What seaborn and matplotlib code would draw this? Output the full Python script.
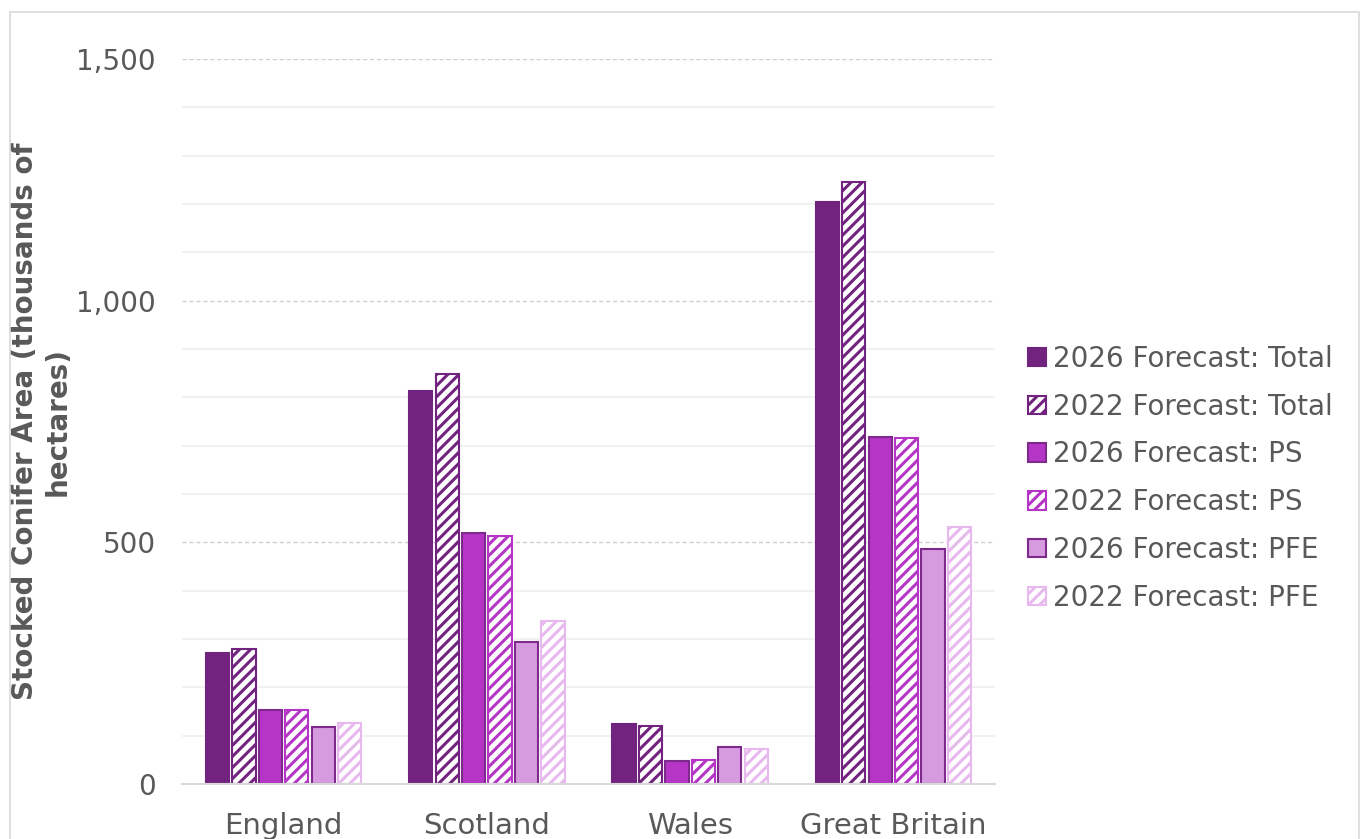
import numpy as np
import pandas as pd
import matplotlib.pyplot as plt
from matplotlib.patches import Rectangle
from matplotlib.ticker import MultipleLocator, FuncFormatter
import seaborn as sns

regions = ["England", "Scotland", "Wales", "Great Britain"]
series = ["2026 Forecast: Total", "2022 Forecast: Total",
          "2026 Forecast: PS", "2022 Forecast: PS",
          "2026 Forecast: PFE", "2022 Forecast: PFE"]
total_2026 = [271, 813, 124, 1204]
total_2022 = [279, 848, 120, 1246]
ps_2026 = [153, 519, 48, 718]
ps_2022 = [153, 513, 50, 716]
pfe_2026 = [118, 294, 77, 486]
pfe_2022 = [126, 337, 72, 532]

colours = ["#72237f", "#72237f", "#b535c6", "#b535c6", "#d69ade", "#e7b9ee"]
edges = ["#72237f", "#72237f", "#7e2a8c", "#b535c6", "#7e2a8c", "#e7b9ee"]
hatched = [False, True, False, True, False, True]

vals = [total_2026, total_2022, ps_2026, ps_2022, pfe_2026, pfe_2022]
df = pd.DataFrame({
    "region": regions * len(series),
    "series": np.repeat(series, len(regions)),
    "value": np.concatenate(vals),
})

sns.set_style("white")
plt.rcParams["font.family"] = ["DejaVu Sans"]
plt.rcParams["hatch.linewidth"] = 2.2

fig = plt.figure(figsize=(13.66, 8.39), dpi=100)
ax = fig.add_axes([0.1332, 0.0656, 0.5952, 0.8641])

sns.barplot(data=df, x="region", y="value", hue="series", hue_order=series,
            palette=colours, saturation=1, width=0.78, gap=0.12, legend=False, ax=ax)

# 2022 series get white face + diagonal stripes in the series colour
for i, cont in enumerate(ax.containers):
    cont.set_label(series[i])
    for p in cont.patches:
        p.set_edgecolor(edges[i])
        p.set_linewidth(1.5)
        if hatched[i]:
            p.set_facecolor("white")
            p.set_hatch("///")

ax.set_ylim(0, 1500)
ax.set_xlim(-0.5, 3.5)
ax.yaxis.set_major_locator(MultipleLocator(500))
ax.yaxis.set_minor_locator(MultipleLocator(100))
ax.yaxis.set_major_formatter(FuncFormatter(lambda v, _: f"{int(v):,}"))
ax.grid(which="minor", axis="y", color="#efefef", linewidth=1.2)
ax.grid(which="major", axis="y", color="#cfcfcf", linewidth=1, linestyle=(0, (3, 2)))
ax.set_axisbelow(True)
for s in ["top", "right", "left"]:
    ax.spines[s].set_visible(False)
ax.spines["bottom"].set_color("#d9d9d9")
ax.spines["bottom"].set_linewidth(1.5)
ax.tick_params(axis="both", length=0, colors="#595959", labelsize=20)
ax.tick_params(axis="x", labelsize=21, pad=20)
ax.tick_params(axis="y", pad=19)
ax.set_xlabel("")
ax.set_ylabel("Stocked Conifer Area (thousands of\nhectares)", fontsize=20,
              fontweight="bold", color="#595959", labelpad=3)

fig.legend(handles=ax.containers, loc="center left", bbox_to_anchor=(0.734, 0.43),
           frameon=False, fontsize=20, handlelength=0.65, handleheight=0.65,
           handletextpad=0.25, labelspacing=0.71, labelcolor="#595959")

fig.patches.append(Rectangle((0.007, -0.02), 0.988, 1.006, transform=fig.transFigure,
                             fill=False, edgecolor="#d9d9d9", linewidth=1.2))

fig.savefig("out.png", dpi=100)
